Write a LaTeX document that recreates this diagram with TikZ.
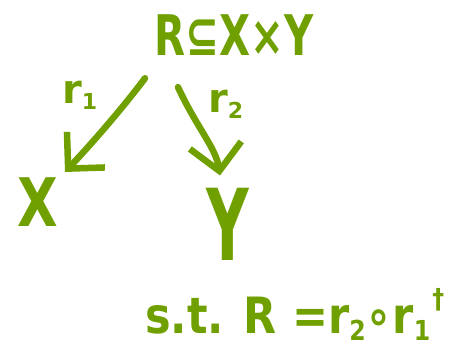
\documentclass[tikz,border=0pt]{standalone}
\usepackage{fontspec}
\setmainfont{DejaVu Sans}
\usetikzlibrary{arrows.meta}
\definecolor{ink}{RGB}{112,160,0}
\newcommand{\lowsub}[1]{\raisebox{-0.15em}{\fontsize{0.55em}{0.6em}\selectfont #1}}
\tikzset{
  hand/.style={text=ink, inner sep=0pt, anchor=base, font=\bfseries},
  stroke/.style={draw=ink, line width=6.5pt, line cap=round, line join=round,
    -{Straight Barb[length=26pt,width=52pt,line width=6.5pt]}},
}
\begin{document}
\begin{tikzpicture}[x=1pt,y=-1pt]
  \useasboundingbox (0,0) rectangle (451,349);
  % relation and its two legs
  \node[hand] (rel) at (234,55)
    {\fontsize{56}{60}\selectfont\scalebox{0.72}[1]{R⊆X×Y}};
  \node[hand] (X) at (38,226) {\fontsize{62}{66}\selectfont\scalebox{0.85}[1.08]{X}};
  \node[hand] (Y) at (228,260) {\fontsize{62}{66}\selectfont\scalebox{0.95}[1.6]{Y}};
  \node[hand, anchor=base west] (l1) at (62,103) {\fontsize{40}{44}\selectfont r\lowsub{1}};
  \node[hand, anchor=base west] (l2) at (208,112) {\fontsize{40}{44}\selectfont r\lowsub{2}};
  % condition
  \node[hand, anchor=base west] (cond) at (145,333)
    {\fontsize{50}{54}\selectfont\scalebox{0.86}[1]{s.t. R =r\lowsub{2}∘r\lowsub{1}\hspace{0.05em}\raisebox{0.5em}{\fontsize{0.55em}{0.6em}\selectfont †}}};
  % arrows from the relation down to each set
  \coordinate (s1) at ([xshift=-89pt,yshift=-23pt]rel.south);
  \coordinate (s2) at ([xshift=-56pt,yshift=-32pt]rel.south);
  \draw[stroke] (s1) .. controls (125,105) and (95,140) .. ([xshift=27pt,yshift=5pt]X.north);
  \draw[stroke] (s2) .. controls (197,128) and (216,148) .. ([xshift=-8pt,yshift=12pt]Y.north);
\end{tikzpicture}
\end{document}
